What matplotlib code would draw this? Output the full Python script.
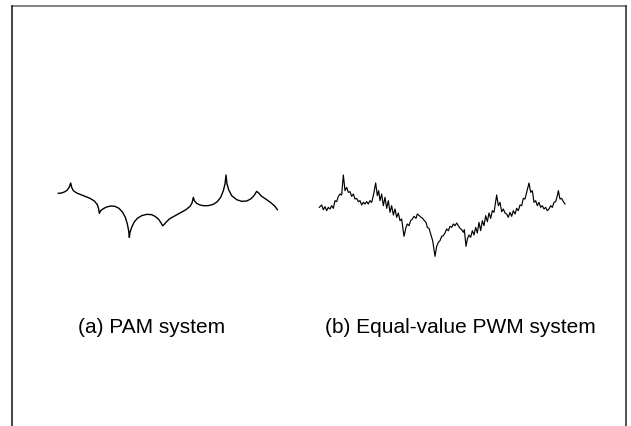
import numpy as np
import matplotlib
matplotlib.use("Agg")
import matplotlib.pyplot as plt
from matplotlib.lines import Line2D

plt.rcParams['font.family'] = ['Liberation Sans', 'DejaVu Sans']

pam_t = [55, 65, 75, 82, 88, 92, 95, 100, 110, 130, 150, 163, 172, 176, 178,
         182, 190, 200, 212, 225, 237, 248, 256, 262, 266, 268,
         270, 275, 282, 292, 305, 320, 335, 345, 355, 362, 368,
         372, 378, 388, 400, 420, 438, 450, 456, 460,
         463, 470, 480, 490, 505, 520, 532, 542, 550, 555, 558,
         561, 566, 575, 590, 605, 620, 632, 642, 650,
         656, 665, 680, 695, 705, 712]
pam_d = [103, 102, 98, 93, 84, 72, 85, 95, 102, 110, 118, 126, 137, 150, 163,
         155, 149, 144, 141, 142, 148, 160, 175, 195, 215, 235,
         220, 205, 190, 178, 170, 166, 167, 172, 180, 190, 200,
         197, 190, 180, 173, 162, 152, 142, 132, 115,
         125, 133, 138, 140, 140, 136, 128, 115, 95, 75, 48,
         75, 92, 110, 122, 127, 126, 120, 110, 97,
         102, 112, 122, 133, 142, 152]

# equal-value PWM waveform
pwm_t = [28, 35, 40, 45, 50, 55, 60, 65, 70, 75, 80, 85, 90, 95, 100, 105, 110,
         115, 120, 125, 130, 135, 140, 145, 150, 155, 160, 165, 170, 175, 180,
         185, 190, 197, 202, 206, 210, 215, 220, 225, 230, 235, 240, 245, 250,
         255, 260, 265, 270, 275, 282, 288, 292, 297, 302, 307, 312, 318, 322,
         328, 333, 338, 343, 348, 352, 357, 362, 368, 375, 380, 385, 390, 395,
         400, 405, 410, 415, 420, 425, 430, 435, 440, 445, 450, 455, 460, 463,
         468, 472, 477, 482, 487, 492, 497, 502, 507, 512, 517, 522, 527, 532,
         537, 542, 547, 552, 560, 565, 570, 575, 580, 585, 590, 595, 600, 605,
         610, 615, 620, 625, 630, 635, 640, 645, 650, 657, 662, 667, 672, 677,
         682, 687, 692, 697, 702, 707, 712, 717, 722, 727, 732, 737, 742, 745,
         750, 755, 760, 765]
pwm_d = [145, 138, 152, 143, 155, 145, 150, 140, 148, 125, 128, 112, 105, 108, 48,
         95, 85, 100, 98, 112, 105, 120, 118, 128, 125, 138, 130, 135, 128, 135,
         125, 130, 110, 72, 110, 95, 125, 105, 140, 115, 148, 125, 160, 140, 168,
         150, 175, 162, 185, 180, 232, 205, 195, 200, 185, 180, 172, 178, 165,
         170, 175, 178, 185, 190, 205, 208, 225, 245, 292, 262, 250, 245, 232,
         230, 222, 210, 215, 202, 205, 195, 200, 192, 200, 208, 212, 220, 212,
         262, 240, 228, 235, 215, 228, 205, 222, 190, 215, 185, 200, 170, 188,
         162, 178, 155, 160, 108, 140, 130, 158, 150, 162, 165, 175, 160, 172,
         155, 165, 148, 155, 138, 140, 118, 120, 100, 72, 100, 95, 130, 125,
         140, 130, 145, 140, 150, 145, 155, 150, 140, 145, 130, 128, 110, 95,
         120, 118, 128, 135]

labels = ['(a) PAM system', '(b) Equal-value PWM system']

W, H = 631, 427
fig = plt.figure(figsize=(W / 100, H / 100), dpi=100)


def px_axes(x0, y0, w, h):
    # axes placed by pixel box (top-left origin)
    ax = fig.add_axes([x0 / W, 1 - (y0 + h) / H, w / W, h / H])
    ax.set_axis_off()
    return ax


ax1 = px_axes(40, 160, 250, 90)
ax1.plot(pam_t, pam_d, color='black', lw=1.0)
ax1.set_xlim(0, 750)
ax1.set_ylim(270, 0)

ax2 = px_axes(310, 160, 260, 110)
ax2.plot(pwm_t, pwm_d, color='black', lw=0.85)
ax2.set_xlim(0, 780)
ax2.set_ylim(330, 0)

# frame round the figure (open at the bottom)
fx0, fx1, fy0 = 11.5 / W, 626 / W, 1 - 6.5 / H
fig.add_artist(Line2D([fx0, fx1], [fy0, fy0], transform=fig.transFigure,
                      color='#6e6e6e', lw=1.2))
fig.add_artist(Line2D([fx0, fx0], [0, fy0], transform=fig.transFigure,
                      color='#111111', lw=1.1))
fig.add_artist(Line2D([fx1, fx1], [0, fy0], transform=fig.transFigure,
                      color='#222222', lw=1.1))

fig.text(151.5 / W, 1 - 333 / H, labels[0], ha='center', va='baseline', fontsize=15)
fig.text(460.5 / W, 1 - 333 / H, labels[1], ha='center', va='baseline', fontsize=15)

fig.savefig('out.png', dpi=100)
